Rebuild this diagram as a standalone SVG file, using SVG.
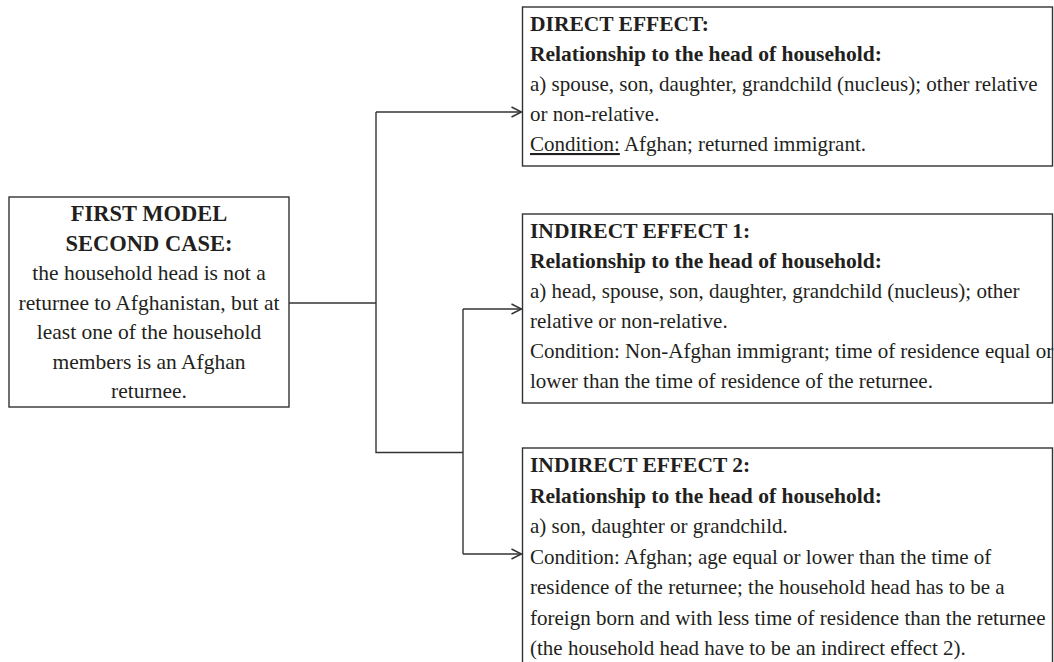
<svg xmlns="http://www.w3.org/2000/svg" width="1054" height="662" viewBox="0 0 1054 662">
<defs>
<style>
.box{fill:#fff;stroke:#333;stroke-width:1.4}
.t{font-family:"Liberation Serif","Times New Roman",serif;font-size:21px;fill:#231f20}
.b{font-weight:bold;font-size:21.5px}
.lt{font-family:"Liberation Serif","Times New Roman",serif;font-size:21.5px;fill:#231f20;text-anchor:middle}
.lb{font-weight:bold;font-size:22.5px}
.c{fill:none;stroke:#333;stroke-width:1.4}
</style>
<marker id="arr" markerUnits="userSpaceOnUse" markerWidth="14" markerHeight="14" refX="11" refY="6" orient="auto">
<path d="M1,1 L11,6 L1,11" fill="none" stroke="#333" stroke-width="1.4"/>
</marker>
</defs>
<rect width="1054" height="662" fill="#fff"/>
<g id="connectors">
<path class="c" d="M289,303 H376"/>
<path class="c" d="M376,112 V452.5 H463"/>
<path class="c" d="M376,112 H521.5" marker-end="url(#arr)"/>
<path class="c" d="M463,309 V554"/>
<path class="c" d="M463,309 H521.5" marker-end="url(#arr)"/>
<path class="c" d="M463,554 H521.5" marker-end="url(#arr)"/>
</g>
<g id="first-model">
<rect class="box" x="9" y="197" width="280" height="210"/>
<text class="lt lb" x="149" y="221">FIRST MODEL</text>
<text class="lt lb" x="149" y="250.5">SECOND CASE:</text>
<text class="lt" x="149" y="280">the household head is not a</text>
<text class="lt" x="149" y="309.5">returnee to Afghanistan, but at</text>
<text class="lt" x="149" y="339">least one of the household</text>
<text class="lt" x="149" y="368.5">members is an Afghan</text>
<text class="lt" x="149" y="398">returnee.</text>
</g>
<g id="direct-effect">
<rect class="box" x="522.5" y="7" width="530" height="159"/>
<text class="t b" x="530" y="31">DIRECT EFFECT:</text>
<text class="t b" x="530" y="61">Relationship to the head of household:</text>
<text class="t" x="530" y="91">a) spouse, son, daughter, grandchild (nucleus); other relative</text>
<text class="t" x="530" y="121">or non-relative.</text>
<text class="t" x="530" y="151"><tspan text-decoration="underline">Condition:</tspan> Afghan; returned immigrant.</text>
</g>
<g id="indirect-effect-1">
<rect class="box" x="522.5" y="214" width="530" height="189"/>
<text class="t b" x="530" y="238">INDIRECT EFFECT 1:</text>
<text class="t b" x="530" y="268">Relationship to the head of household:</text>
<text class="t" x="530" y="298">a) head, spouse, son, daughter, grandchild (nucleus); other</text>
<text class="t" x="530" y="328">relative or non-relative.</text>
<text class="t" x="530" y="358">Condition: Non-Afghan immigrant; time of residence equal or</text>
<text class="t" x="530" y="388">lower than the time of residence of the returnee.</text>
</g>
<g id="indirect-effect-2">
<rect class="box" x="522.5" y="448" width="530" height="240"/>
<text class="t b" x="530" y="472">INDIRECT EFFECT 2:</text>
<text class="t b" x="530" y="502.5">Relationship to the head of household:</text>
<text class="t" x="530" y="533">a) son, daughter or grandchild.</text>
<text class="t" x="530" y="563.5">Condition: Afghan; age equal or lower than the time of</text>
<text class="t" x="530" y="594">residence of the returnee; the household head has to be a</text>
<text class="t" x="530" y="624.5">foreign born and with less time of residence than the returnee</text>
<text class="t" x="530" y="655">(the household head have to be an indirect effect 2).</text>
</g>
</svg>
